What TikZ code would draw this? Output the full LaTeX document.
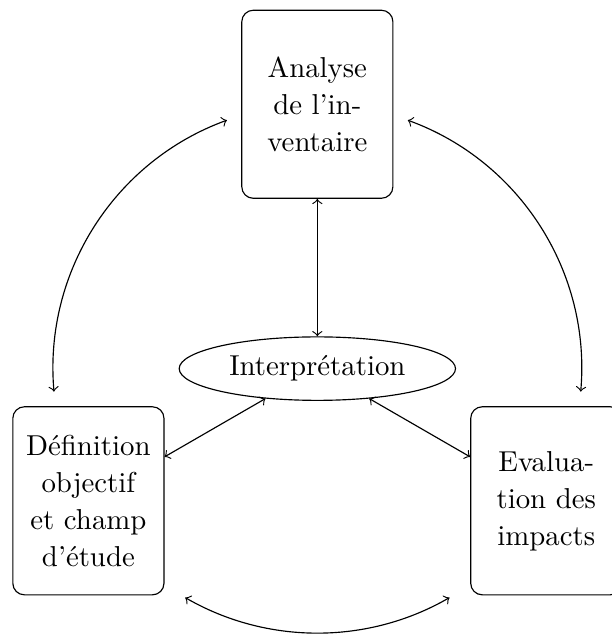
\documentclass[tikz,border=0pt]{standalone}
\usetikzlibrary{shapes.geometric}
\begin{document}
\begin{tikzpicture}[>=to, line join=round, line cap=round,
		boite/.style={draw, rounded corners, text width=1.61cm, align=center, minimum height=65.3pt,
			font=\fontsize{10pt}{12.85pt}\selectfont}]
		%	\draw[color=gray!50,dashed] (-4,-4) grid (4,4);
		\useasboundingbox (-110.2pt,-92.5pt) rectangle (102.3pt,128pt);
		\def\R{91.8pt}
		\node[ellipse,draw] (interp) at (0,0) {Interprétation};
		\node[boite] (inventaire) at (90:\R) {Analyse\\de l'in-\\ventaire};
		\node[boite] (definition) at (210:\R) {Définition\\objectif\\et champ\\d'étude};
		\node[boite] (evaluation) at (330:\R) {Evalua-\\tion des\\impacts};
		\draw[<->] (inventaire)--(interp);
		\draw[<->] (interp)--(definition);
		\draw[<->] (interp)--(evaluation);
		\coordinate (g) at (110:\R);
		\coordinate (d) at (70:\R);
		\coordinate (b) at (240:\R);
		\draw[<->] (g) arc[start angle=110, end angle=185, radius=\R];
		\draw[<->] (d) arc[start angle=70, end angle=-5, radius=\R];
		\draw[<->] (b) arc[start angle=240, end angle=300, radius=\R];
\end{tikzpicture}
\end{document}
